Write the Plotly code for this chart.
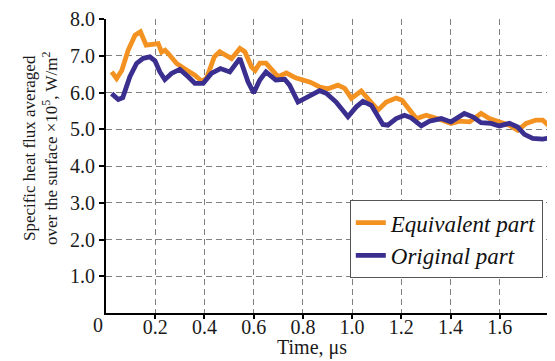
import plotly.graph_objects as go

# Time, µs and heat flux (×10^5 W/m^2)
eq_t = [0.023, 0.043, 0.064, 0.09, 0.118, 0.14, 0.163, 0.2, 0.212, 0.226, 0.24, 0.253, 0.287, 0.327,
        0.361, 0.388, 0.408, 0.44, 0.462, 0.51, 0.544, 0.564, 0.591, 0.606, 0.625, 0.65, 0.699, 0.733,
        0.77, 0.83, 0.868, 0.902, 0.942, 0.97, 0.997, 1.037, 1.064, 1.105, 1.139, 1.179, 1.203, 1.227,
        1.261, 1.301, 1.335, 1.355, 1.402, 1.436, 1.477, 1.524, 1.558, 1.598, 1.639, 1.673, 1.707,
        1.747, 1.774, 1.8]
eq_q = [6.56, 6.38, 6.6, 7.15, 7.56, 7.65, 7.29, 7.32, 7.33, 7.1, 7.15, 7.06, 6.79, 6.61,
        6.47, 6.31, 6.38, 6.97, 7.11, 6.92, 7.2, 7.11, 6.7, 6.6, 6.8, 6.8, 6.43, 6.53,
        6.4, 6.28, 6.15, 6.1, 6.2, 6.11, 5.84, 6.04, 5.84, 5.52, 5.74, 5.85, 5.79, 5.56,
        5.29, 5.38, 5.29, 5.27, 5.16, 5.22, 5.2, 5.43, 5.29, 5.2, 5.11, 4.97, 5.16,
        5.25, 5.25, 5.09]

or_t = [0.023, 0.05, 0.068, 0.097, 0.124, 0.151, 0.178, 0.199, 0.219, 0.239, 0.266, 0.3, 0.334,
        0.361, 0.395, 0.428, 0.465, 0.503, 0.544, 0.577, 0.6, 0.625, 0.65, 0.69, 0.726, 0.746,
        0.78, 0.83, 0.868, 0.895, 0.935, 0.983, 1.017, 1.044, 1.078, 1.125, 1.145, 1.179, 1.213,
        1.24, 1.281, 1.314, 1.362, 1.402, 1.456, 1.49, 1.524, 1.565, 1.598, 1.639, 1.673, 1.7,
        1.734, 1.774, 1.8]
or_q = [5.97, 5.81, 5.86, 6.43, 6.79, 6.93, 6.97, 6.86, 6.56, 6.35, 6.52, 6.63, 6.43,
        6.25, 6.25, 6.52, 6.65, 6.56, 6.93, 6.29, 5.99, 6.34, 6.56, 6.34, 6.36, 6.2,
        5.74, 5.9, 6.05, 5.98, 5.74, 5.34, 5.61, 5.76, 5.65, 5.13, 5.11, 5.29, 5.38,
        5.31, 5.09, 5.22, 5.29, 5.2, 5.43, 5.34, 5.18, 5.16, 5.09, 5.16, 5.06, 4.86,
        4.75, 4.73, 4.76]

x_ticks = [0.2, 0.4, 0.6, 0.8, 1.0, 1.2, 1.4, 1.6]
x_labels = ["0.2", "0.4", "0.6", "0.8", "1.0", "1.2", "1.4", "1.6"]
y_ticks = [1, 2, 3, 4, 5, 6, 7, 8]
y_labels = ["1.0", "2.0", "3.0", "4.0", "5.0", "6.0", "7.0", "8.0"]

FONT = "Liberation Serif"

fig = go.Figure()
fig.add_trace(go.Scatter(x=eq_t, y=eq_q, mode="lines", name="Equivalent part",
                         line=dict(color="#F39221", width=4.8)))
fig.add_trace(go.Scatter(x=or_t, y=or_q, mode="lines", name="Original part",
                         line=dict(color="#3A2E8E", width=4.8)))

# page body adds an 8px margin: size the figure to fill the remaining window
fig.update_layout(
    width=547, height=353,
    margin=dict(l=98, r=6, t=11, b=48),
    paper_bgcolor="white", plot_bgcolor="white",
    font=dict(family=FONT, color="#1a1a1a", size=20),
    showlegend=True,
    legend=dict(x=0.986, y=0.384, xanchor="right", yanchor="top",
                bgcolor="white", bordercolor="#555", borderwidth=1,
                font=dict(family=FONT, size=23, style="italic", color="#111"),
                tracegroupgap=0, itemwidth=30),
    xaxis=dict(range=[0, 1.8], tickvals=x_ticks, ticktext=x_labels,
               showline=True, linecolor="black", linewidth=2,
               ticks="outside", ticklen=4, tickcolor="black", tickwidth=1.5,
               ticklabelstandoff=-9,
               showgrid=True, gridcolor="#808080", gridwidth=1, griddash="6px,4px",
               zeroline=False, tickfont=dict(family=FONT, size=20), automargin=False),
    yaxis=dict(range=[0, 8], tickvals=y_ticks, ticktext=y_labels,
               showline=True, linecolor="black", linewidth=2,
               ticks="outside", ticklen=5, tickcolor="black", tickwidth=1.5,
               showgrid=True, gridcolor="#808080", gridwidth=1, griddash="6px,4px",
               zeroline=False, tickfont=dict(family=FONT, size=20), automargin=False),
    shapes=[dict(type="line", xref="paper", yref="paper", x0=1, x1=1, y0=0, y1=1,
                 line=dict(color="black", width=2))],
    annotations=[
        dict(text="Specific heat flux averaged<br>over the surface ×10<sup>5</sup>, W/m<sup>2</sup>",
             xref="paper", yref="paper", x=-0.149, y=0.561, xanchor="center", yanchor="middle",
             textangle=-90, showarrow=False, font=dict(family=FONT, size=17, color="#1a1a1a")),
        dict(text="Time, μs", xref="paper", yref="paper", x=0.465, y=-0.119,
             xanchor="center", yanchor="middle", showarrow=False,
             font=dict(family=FONT, size=20, color="#1a1a1a")),
        dict(text="0", xref="paper", yref="paper", x=-0.019, y=-0.041,
             xanchor="center", yanchor="middle", showarrow=False,
             font=dict(family=FONT, size=20, color="#1a1a1a")),
    ],
)

fig.write_html("out.html")
